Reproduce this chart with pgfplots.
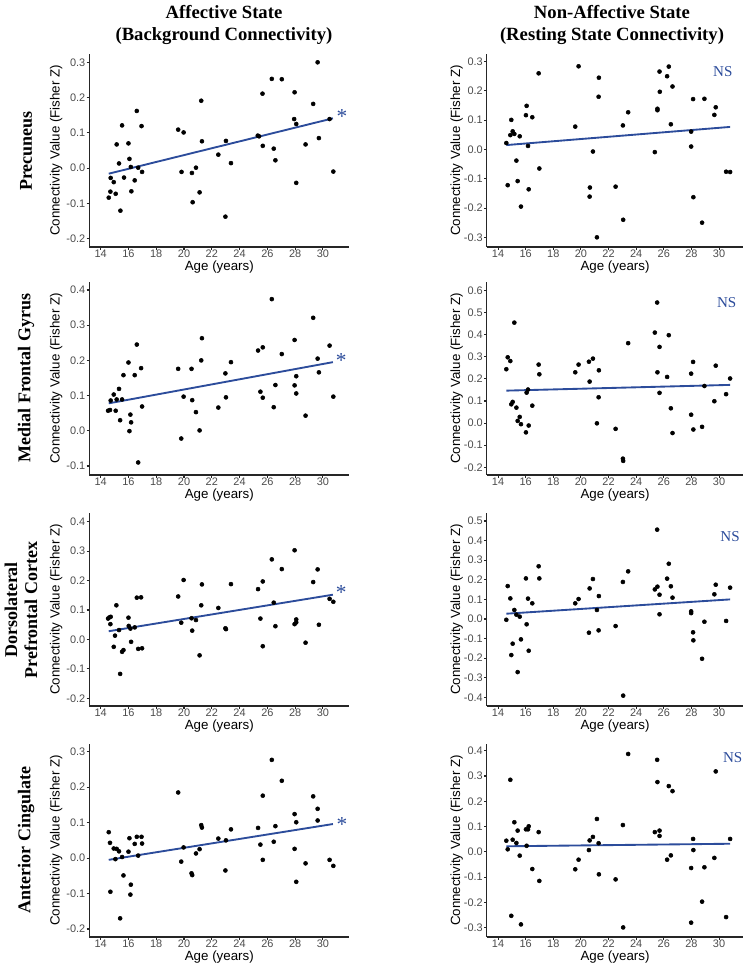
\documentclass[border=0pt]{standalone}
\usepackage{fontspec}
\setmainfont{Liberation Sans}
\newfontfamily\serifb{Liberation Serif}
\usepackage{pgfplots}
\pgfplotsset{compat=1.18}
\definecolor{regblue}{RGB}{44,76,155}
\pgfplotsset{
 panel/.style={
  scale only axis, height=144.75pt,
  axis lines=left, axis line style={-, black!85, line width=0.8pt},
  tick align=outside, major tick length=2pt, tick style={black!85, line width=0.8pt},
  xmin=13.18, xtick={14,16,...,30},
  ticklabel style={font=\fontsize{8.2}{9}\selectfont, text=black!70, inner sep=0.8pt},
  /pgf/number format/assume math mode=true,
  xticklabel style={yshift=0.5pt},
  yticklabel style={/pgf/number format/.cd, fixed, fixed zerofill, precision=1},
  xlabel={Age (years)}, ylabel={Connectivity Value (Fisher Z)},
  label style={font=\fontsize{10.3}{12}\selectfont},
  every axis x label/.style={at={(axis description cs:0.5,-0.104)}, anchor=center},
  every axis y label/.style={at={(axis description cs:-0.127,0.5)}, rotate=90, anchor=center},
  clip=false, anchor=south west,
 },
 leftp/.style={panel, width=195pt, xmax=31.9},
 rightp/.style={panel, width=192.5pt, xmax=31.76, every axis y label/.style={at={(axis description cs:-0.117,0.5)}, rotate=90, anchor=center}},
 dots/.style={only marks, mark=*, mark size=1.5pt, black},
 reg/.style={regblue, line width=1.4pt, no marks},
}
\newcommand{\sigstar}[2]{\node[text=regblue, font=\serifb\fontsize{16}{16}\selectfont, inner sep=0pt] at (axis cs:#1,#2) {*};}
\newcommand{\ns}[2]{\node[text=regblue, font=\serifb\fontsize{11.3}{12}\selectfont, inner sep=0pt] at (axis cs:#1,#2) {NS};}
\begin{document}
\begin{tikzpicture}
\useasboundingbox (0pt,0pt) rectangle (562.5pt,725.25pt);
% titles
\node[font=\serifb\bfseries\fontsize{14}{16.5}\selectfont, align=center] at (168pt,706.5pt) {Affective State\\(Background Connectivity)};
\node[font=\serifb\bfseries\fontsize{14}{16.5}\selectfont, align=center] at (459pt,706.5pt) {Non-Affective State\\(Resting State Connectivity)};
% row labels
\node[font=\serifb\bfseries\fontsize{13.5}{15}\selectfont, rotate=90] at (19.5pt,612pt) {Precuneus};
\node[font=\serifb\bfseries\fontsize{13.5}{15}\selectfont, rotate=90] at (19.5pt,441.75pt) {Medial Frontal Gyrus};
\node[font=\serifb\bfseries\fontsize{13.5}{15}\selectfont, rotate=90, align=center] at (15.75pt,267.75pt) {Dorsolateral\\Prefrontal Cortex};
\node[font=\serifb\bfseries\fontsize{13.5}{15}\selectfont, rotate=90] at (19.5pt,95.25pt) {Anterior Cingulate};

% Row 1 left
\begin{axis}[leftp, at={(66.975pt,540pt)}, ymin=-0.224, ymax=0.3236, ytick={-0.2,-0.1,0,0.1,0.2,0.3}]
\addplot[dots] coordinates {(14.58,-0.084)(14.70,-0.067)(14.72,-0.028)(14.94,-0.040)(15.08,-0.073)(15.15,0.067)(15.32,0.013)(15.42,-0.121)(15.54,0.121)(15.68,-0.027)(16.0,0.070)(16.07,0.026)(16.17,0.003)(16.21,-0.066)(16.45,-0.035)(16.60,0.162)(16.70,0.001)(16.94,0.119)(16.98,-0.011)(19.58,0.109)(19.82,-0.011)(19.97,0.101)(20.57,-0.014)(20.62,-0.097)(20.86,0.001)(21.12,-0.069)(21.24,0.191)(21.29,0.076)(22.47,0.038)(22.98,-0.138)(23.02,0.077)(23.38,0.014)(25.31,0.092)(25.40,0.090)(25.65,0.211)(25.67,0.063)(26.32,0.253)(26.46,0.055)(26.58,0.022)(27.04,0.252)(27.96,0.215)(27.93,0.139)(28.08,0.125)(28.08,-0.042)(28.75,0.067)(29.30,0.182)(29.62,0.300)(29.71,0.085)(30.48,0.139)(30.75,-0.010)};
\addplot[reg] coordinates {(14.58,-0.016)(30.72,0.141)};
\sigstar{31.37}{0.145}
\end{axis}

% Row 1 right
\begin{axis}[rightp, at={(365.025pt,540pt)}, ymin=-0.333, ymax=0.326, ytick={-0.3,-0.2,-0.1,0,0.1,0.2,0.3}]
\addplot[dots] coordinates {(14.60,0.022)(14.70,-0.122)(14.89,0.049)(14.96,0.101)(15.06,0.062)(15.18,0.053)(15.33,-0.038)(15.42,-0.108)(15.57,0.045)(15.66,-0.195)(16.02,0.117)(16.07,0.149)(16.17,0.012)(16.22,-0.136)(16.48,0.110)(16.94,0.260)(16.99,-0.065)(19.59,0.078)(19.83,0.284)(20.63,-0.161)(20.65,-0.130)(20.87,-0.007)(21.16,-0.300)(21.28,0.180)(21.30,0.245)(22.51,-0.127)(23.04,0.082)(23.06,-0.240)(23.42,0.127)(25.35,-0.009)(25.54,0.139)(25.54,0.134)(25.69,0.266)(25.71,0.197)(26.24,0.250)(26.36,0.283)(26.51,0.086)(26.63,0.215)(27.98,0.061)(27.98,0.010)(28.12,0.172)(28.14,-0.163)(28.77,-0.250)(28.94,0.173)(29.66,0.118)(29.76,0.144)(30.51,-0.076)(30.80,-0.077)};
\addplot[reg] coordinates {(14.60,0.015)(30.80,0.077)};
\ns{30.27}{0.266}
\end{axis}

% Row 2 left
\begin{axis}[leftp, at={(66.975pt,369pt)}, ymin=-0.1256, ymax=0.4227, ytick={-0.1,0,0.1,0.2,0.3,0.4}]
\addplot[dots] coordinates {(14.53,0.057)(14.67,0.059)(14.72,0.086)(14.94,0.103)(15.08,0.057)(15.15,0.089)(15.32,0.119)(15.40,0.030)(15.54,0.089)(15.64,0.158)(16.00,0.194)(16.07,-0.001)(16.14,0.046)(16.19,0.024)(16.45,0.158)(16.60,0.245)(16.70,-0.090)(16.91,0.178)(16.98,0.069)(19.58,0.176)(19.80,-0.022)(19.97,0.097)(20.54,0.176)(20.59,0.087)(20.86,0.053)(21.12,0.001)(21.24,0.200)(21.29,0.263)(22.47,0.066)(22.98,0.163)(23.02,0.095)(23.38,0.195)(25.33,0.228)(25.50,0.111)(25.67,0.237)(25.67,0.094)(26.32,0.374)(26.46,0.067)(26.58,0.130)(27.04,0.218)(27.96,0.129)(27.96,0.258)(28.08,0.155)(28.08,0.106)(28.75,0.043)(29.30,0.321)(29.62,0.205)(29.71,0.166)(30.48,0.242)(30.75,0.097)};
\addplot[reg] coordinates {(14.58,0.078)(30.72,0.195)};
\sigstar{31.32}{0.200}
\end{axis}

% Row 2 right
\begin{axis}[rightp, at={(365.025pt,369pt)}, ymin=-0.235, ymax=0.639, ytick={-0.2,-0.1,0,0.1,0.2,0.3,0.4,0.5,0.6}]
\addplot[dots] coordinates {(14.60,0.244)(14.70,0.298)(14.89,0.281)(14.96,0.085)(15.06,0.096)(15.18,0.455)(15.33,0.070)(15.42,0.010)(15.57,0.028)(15.66,-0.005)(16.02,-0.042)(16.07,0.138)(16.17,0.152)(16.22,-0.011)(16.48,0.079)(16.94,0.265)(16.99,0.221)(19.59,0.230)(19.83,0.265)(20.58,0.278)(20.63,0.188)(20.87,0.292)(21.16,-0.001)(21.28,0.117)(21.30,0.239)(22.51,-0.026)(23.04,-0.161)(23.06,-0.171)(23.42,0.362)(25.35,0.410)(25.52,0.546)(25.54,0.230)(25.69,0.345)(25.69,0.137)(26.24,0.209)(26.36,0.398)(26.51,0.067)(26.63,-0.045)(27.98,0.224)(27.98,0.038)(28.12,0.277)(28.14,-0.029)(28.77,-0.017)(28.94,0.168)(29.66,0.099)(29.76,0.260)(30.51,0.131)(30.80,0.202)};
\addplot[reg] coordinates {(14.60,0.147)(30.80,0.173)};
\ns{30.55}{0.546}
\end{axis}

% Row 3 left
\begin{axis}[leftp, at={(66.975pt,195.75pt)}, ymin=-0.226, ymax=0.4296, ytick={-0.2,-0.1,0,0.1,0.2,0.3,0.4}]
\addplot[dots] coordinates {(14.53,0.071)(14.63,0.075)(14.70,0.052)(14.72,0.077)(14.94,-0.025)(15.03,0.013)(15.13,0.116)(15.32,0.032)(15.40,-0.117)(15.54,-0.042)(15.64,-0.036)(16.00,0.074)(16.02,0.046)(16.14,0.037)(16.19,-0.008)(16.45,0.041)(16.60,0.142)(16.70,-0.032)(16.91,0.143)(16.98,-0.030)(19.58,0.146)(19.80,0.057)(19.97,0.202)(20.54,0.072)(20.59,0.030)(20.86,0.066)(21.12,-0.054)(21.24,0.116)(21.29,0.187)(22.47,0.107)(22.98,0.038)(23.02,0.035)(23.38,0.188)(25.33,0.171)(25.50,0.071)(25.67,-0.023)(25.67,0.197)(26.32,0.272)(26.46,0.125)(26.58,0.045)(27.04,0.239)(27.96,0.303)(27.96,0.052)(28.08,0.068)(28.08,0.058)(28.75,-0.011)(29.30,0.195)(29.62,0.238)(29.71,0.050)(30.48,0.138)(30.75,0.128)};
\addplot[reg] coordinates {(14.58,0.028)(30.72,0.152)};
\sigstar{31.32}{0.158}
\end{axis}

% Row 3 right
\begin{axis}[rightp, at={(365.025pt,195.75pt)}, ymin=-0.444, ymax=0.541, ytick={-0.4,-0.3,-0.2,-0.1,0,0.1,0.2,0.3,0.4,0.5}]
\addplot[dots] coordinates {(14.60,-0.004)(14.70,0.168)(14.89,0.105)(14.96,-0.184)(15.06,-0.126)(15.18,0.046)(15.33,0.022)(15.42,-0.271)(15.57,0.012)(15.66,-0.104)(16.02,0.207)(16.07,-0.027)(16.17,0.104)(16.22,-0.162)(16.48,0.080)(16.94,0.269)(16.99,0.207)(19.59,0.080)(19.83,0.102)(20.58,-0.070)(20.63,0.156)(20.87,0.204)(21.16,0.046)(21.28,-0.058)(21.30,0.117)(22.51,-0.036)(23.04,0.189)(23.06,-0.391)(23.42,0.243)(25.35,0.151)(25.52,0.456)(25.54,0.165)(25.69,0.124)(25.69,0.024)(26.24,0.206)(26.36,0.282)(26.51,0.167)(26.63,0.109)(27.98,0.039)(27.98,0.030)(28.12,-0.068)(28.14,-0.109)(28.77,-0.203)(28.94,-0.014)(29.66,0.126)(29.76,0.175)(30.51,-0.010)(30.80,0.160)};
\addplot[reg] coordinates {(14.60,0.027)(30.80,0.100)};
\ns{30.80}{0.420}
\end{axis}

% Row 4 left
\begin{axis}[leftp, at={(66.975pt,22.5pt)}, ymin=-0.2226, ymax=0.3217, ytick={-0.2,-0.1,0,0.1,0.2,0.3}]
\addplot[dots] coordinates {(14.58,0.073)(14.67,0.043)(14.70,-0.095)(14.94,0.027)(15.06,-0.003)(15.15,0.026)(15.32,0.019)(15.40,-0.170)(15.54,0.003)(15.64,-0.049)(16.00,0.018)(16.07,0.056)(16.17,-0.075)(16.14,-0.103)(16.45,0.040)(16.60,0.060)(16.70,0.007)(16.94,0.060)(16.98,0.041)(19.58,0.185)(19.80,-0.010)(19.97,0.030)(20.54,-0.043)(20.59,-0.048)(20.86,0.013)(21.12,0.025)(21.24,0.093)(21.29,0.086)(22.47,0.055)(22.98,-0.035)(23.02,0.050)(23.38,0.081)(25.33,0.085)(25.50,0.038)(25.67,0.176)(25.67,-0.005)(26.32,0.277)(26.46,0.046)(26.58,0.090)(27.04,0.218)(27.96,0.124)(27.96,0.026)(28.08,0.101)(28.08,-0.067)(28.75,-0.015)(29.30,0.174)(29.62,0.139)(29.62,0.106)(30.48,-0.005)(30.75,-0.022)};
\addplot[reg] coordinates {(14.58,-0.005)(30.72,0.096)};
\sigstar{31.37}{0.096}
\end{axis}

% Row 4 right
\begin{axis}[rightp, at={(365.025pt,22.5pt)}, ymin=-0.3368, ymax=0.4265, ytick={-0.3,-0.2,-0.1,0,0.1,0.2,0.3,0.4}]
\addplot[dots] coordinates {(14.60,0.044)(14.70,0.010)(14.89,0.285)(14.96,-0.253)(15.06,0.048)(15.18,0.117)(15.33,0.035)(15.42,0.084)(15.57,-0.015)(15.66,-0.287)(16.02,0.089)(16.07,0.024)(16.17,0.089)(16.22,0.101)(16.48,-0.068)(16.94,0.078)(16.99,-0.115)(19.59,-0.069)(19.83,-0.031)(20.58,0.007)(20.63,0.045)(20.87,0.059)(21.16,0.130)(21.28,0.034)(21.30,-0.089)(22.51,-0.109)(23.04,0.106)(23.06,-0.299)(23.42,0.387)(25.35,0.078)(25.52,0.364)(25.54,0.276)(25.69,0.084)(25.69,0.063)(26.24,-0.031)(26.36,0.260)(26.51,-0.014)(26.63,0.240)(27.98,-0.064)(27.98,-0.280)(28.12,0.051)(28.14,0.007)(28.77,-0.197)(28.94,-0.061)(29.66,-0.024)(29.76,0.318)(30.51,-0.258)(30.80,0.051)};
\addplot[reg] coordinates {(14.60,0.022)(30.80,0.032)};
\ns{30.99}{0.372}
\end{axis}
\end{tikzpicture}
\end{document}
